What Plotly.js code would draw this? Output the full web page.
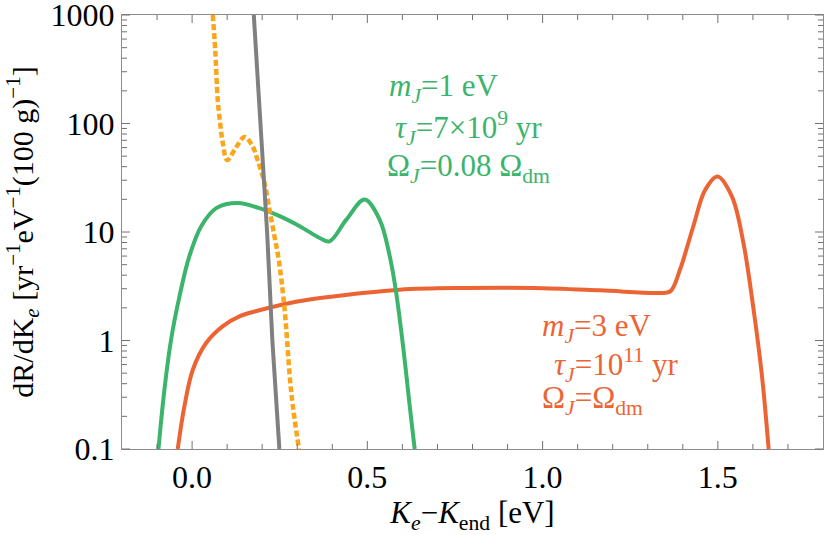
<!DOCTYPE html>
<html>
<head>
<meta charset="utf-8">
<script src="https://cdn.plot.ly/plotly-3.0.1.min.js"></script>
<style>
  html, body { margin: 0; padding: 0; background: #fff; }
  #chart { width: 830px; height: 535px; }
</style>
</head>
<body>
<div id="chart"></div>
<script>
// ── Data ──────────────────────────────────────────────────────────────────────

// Gray solid line
const grayX = [0.176, 0.214, 0.229, 0.249];
const grayY = [1000, 10, 1, 0.1];

// Orange dotted line
const orangeX = [0.059, 0.066, 0.073, 0.079, 0.087, 0.100, 0.125, 0.149, 0.170, 0.187, 0.207, 0.221, 0.235, 0.247, 0.264, 0.283, 0.305];
const orangeY = [1000, 480, 166, 108, 68, 46, 60, 75, 64, 46, 28, 16, 9.1, 5.6, 1.92, 0.33, 0.1];

// Green: m_J = 1 eV
const greenX = [-0.096, -0.079, -0.060, -0.036, -0.008, 0.026, 0.069, 0.130, 0.192, 0.250, 0.307, 0.364, 0.392, 0.440, 0.492, 0.535, 0.564, 0.581, 0.602, 0.621, 0.635];
const greenY = [0.1, 0.352, 1.017, 2.55, 5.96, 11.3, 16.6, 18.5, 16.6, 14, 11.3, 8.8, 8.2, 13, 19.9, 13, 5.96, 2.94, 0.883, 0.247, 0.1];

// Red: m_J = 3 eV
const redX = [-0.041, -0.022, 0.002, 0.040, 0.087, 0.135, 0.192, 0.300, 0.402, 0.592, 0.783, 0.973, 1.164, 1.335, 1.365, 1.392, 1.430, 1.464, 1.499, 1.540, 1.573, 1.602, 1.626, 1.645];
const redY = [0.1, 0.247, 0.538, 0.948, 1.35, 1.67, 1.90, 2.29, 2.55, 2.94, 3.05, 3.05, 2.9, 2.74, 2.85, 4.5, 11.3, 24.5, 32.5, 21.3, 7.9, 1.92, 0.467, 0.1];

const xTickVals = [0, 0.5, 1, 1.5];
const yTickVals = [0.1, 1, 10, 100, 1000];
const yTickText = ["0.1", "1", "10", "100", "1000"];

const greenLabels = [
  "<i>m</i><sub><i>J</i></sub>=1 eV",
  "<i>τ</i><sub><i>J</i></sub>=7×10<sup>9</sup> yr",
  "Ω<sub><i>J</i></sub>=0.08 Ω<sub>dm</sub>",
];
const redLabels = [
  "<i>m</i><sub><i>J</i></sub>=3 eV",
  "<i>τ</i><sub><i>J</i></sub>=10<sup>11</sup> yr",
  "Ω<sub><i>J</i></sub>=Ω<sub>dm</sub>",
];

// ── Styles ────────────────────────────────────────────────────────────────────

const GREEN = "#3cb46c";
const RED = "#ec6434";
const ORANGE = "#fba51b";
const GRAY = "#808080";
const FRAME = "#8c8c8c";
const TICK = "#707070";
const FONT = "Liberation Serif, Times New Roman, serif";
const X_RANGE = [-0.2, 1.8];
const Y_RANGE = [-1, 3];

const line = (x, y, color, extra = {}) => ({
  type: "scatter",
  mode: "lines",
  x, y,
  line: Object.assign({ color, width: 4, shape: "spline", smoothing: 1 }, extra),
  hoverinfo: "skip",
});

const traces = [
  line(redX, redY, RED),
  line(greenX, greenY, GREEN),
  line(orangeX, orangeY, ORANGE, { dash: "6px,3px", width: 4.5 }),
  line(grayX, grayY, GRAY, { shape: "linear" }),
];

// ── Frame ticks (inside, mirrored), drawn as shapes ───────────────────────────

const minorX = [];
for (let i = -1; i <= 17; i++) if (i % 5 !== 0) minorX.push(i / 10);
const minorY = [];
for (let d = -1; d < 3; d++) for (let k = 2; k <= 9; k++) minorY.push(k * Math.pow(10, d));

const yFrac = v => (Math.log10(v) - Y_RANGE[0]) / (Y_RANGE[1] - Y_RANGE[0]);

const tickShape = base => Object.assign({
  type: "line", line: { color: TICK, width: 1 }, layer: "above",
}, base);

const shapes = [];
[[xTickVals, 8], [minorX, 5]].forEach(([vals, len]) => vals.forEach(v => {
  shapes.push(tickShape({ xref: "x", x0: v, x1: v, yref: "paper", ysizemode: "pixel", yanchor: 0, y0: 0, y1: len }));
  shapes.push(tickShape({ xref: "x", x0: v, x1: v, yref: "paper", ysizemode: "pixel", yanchor: 1, y0: 0, y1: -len }));
}));
[[yTickVals, 8], [minorY, 5]].forEach(([vals, len]) => vals.forEach(v => {
  const f = yFrac(v);
  shapes.push(tickShape({ yref: "paper", y0: f, y1: f, xref: "paper", xsizemode: "pixel", xanchor: 0, x0: 0, x1: len }));
  shapes.push(tickShape({ yref: "paper", y0: f, y1: f, xref: "paper", xsizemode: "pixel", xanchor: 1, x0: 0, x1: -len }));
}));

// ── Labels ────────────────────────────────────────────────────────────────────

const greenPos = [[0.555, 2.33], [0.572, 1.961], [0.549, 1.593]];
const redPos = [[0.992, 0.118], [1.027, -0.223], [0.992, -0.546]];

const annotations = [
  ...greenLabels.map((t, i) => ({
    x: greenPos[i][0], y: greenPos[i][1], xref: "x", yref: "y",
    text: t, showarrow: false, xanchor: "left", yanchor: "middle",
    font: { family: FONT, size: 31, color: GREEN },
  })),
  ...redLabels.map((t, i) => ({
    x: redPos[i][0], y: redPos[i][1], xref: "x", yref: "y",
    text: t, showarrow: false, xanchor: "left", yanchor: "middle",
    font: { family: FONT, size: 31, color: RED },
  })),
];

const axisBase = {
  showgrid: false,
  zeroline: false,
  showline: true,
  linecolor: FRAME,
  linewidth: 1,
  mirror: true,
  ticks: "",
  ticklabeloverflow: "allow",
  tickfont: { family: FONT, size: 32, color: "#000" },
};

const layout = {
  width: 830,
  height: 535,
  margin: { l: 122, r: 7, t: 15, b: 86 },
  paper_bgcolor: "#fff",
  plot_bgcolor: "#fff",
  showlegend: false,
  font: { family: FONT, color: "#000" },
  xaxis: Object.assign({}, axisBase, {
    range: X_RANGE,
    tickmode: "array",
    tickvals: xTickVals,
    tickformat: ".1f",
    title: {
      text: "<i>K</i><sub><i>e</i></sub>−<i>K</i><sub>end</sub> [eV]",
      font: { family: FONT, size: 31, color: "#000" },
      standoff: 13,
    },
  }),
  yaxis: Object.assign({}, axisBase, {
    type: "log",
    range: Y_RANGE,
    tickmode: "array",
    tickvals: yTickVals,
    ticktext: yTickText,
    title: {
      text: "dR/dK<sub><i>e</i></sub> [yr<sup>−1</sup>eV<sup>−1</sup>(100 g)<sup>−1</sup>]",
      font: { family: FONT, size: 30, color: "#000" },
      standoff: 8,
    },
  }),
  shapes,
  annotations,
};

Plotly.newPlot("chart", traces, layout, { displayModeBar: false, staticPlot: true });
</script>
</body>
</html>
